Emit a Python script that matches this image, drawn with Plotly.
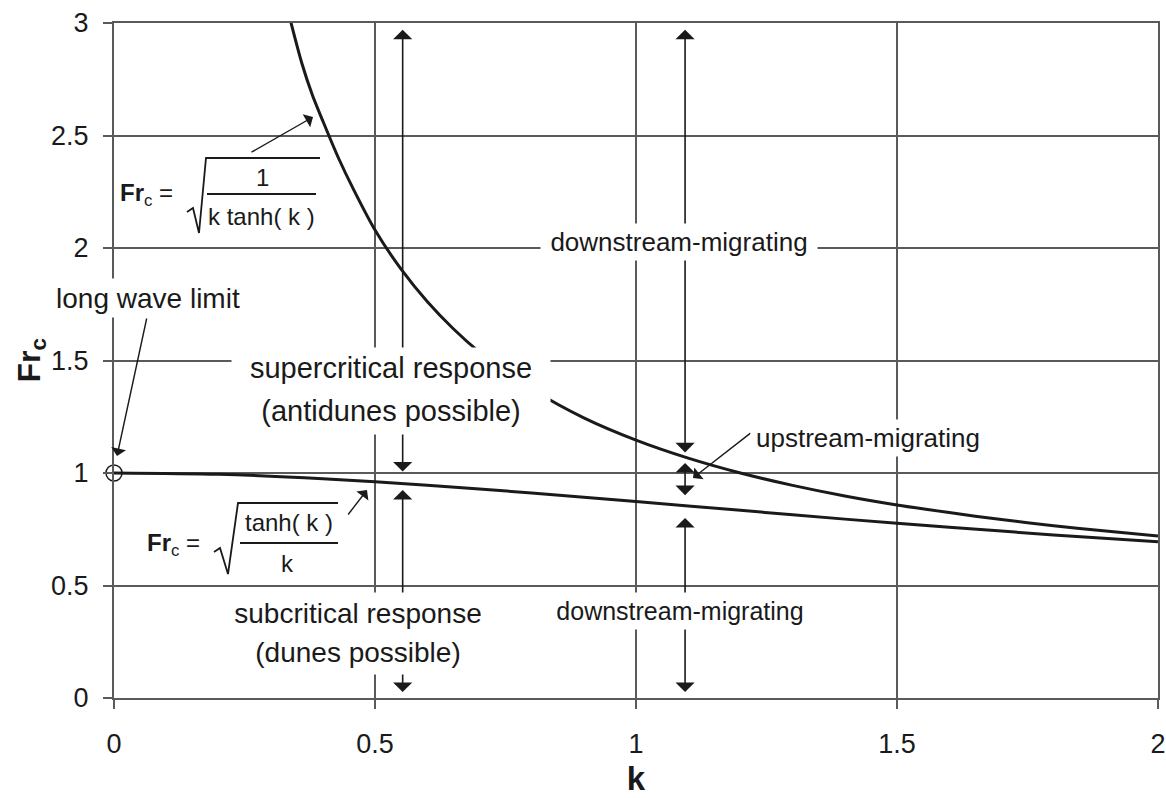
import plotly.graph_objects as go

# ---------------- data ----------------
k_upper = [0.337, 0.36, 0.38, 0.40, 0.43, 0.46, 0.50, 0.55, 0.60, 0.65, 0.70,
           0.75, 0.80, 0.90, 1.00, 1.10, 1.20, 1.30, 1.40, 1.50, 1.60,
           1.70, 1.80, 1.90, 2.00]
fr_upper = [3.020, 2.820, 2.680, 2.565, 2.400, 2.255, 2.080, 1.906, 1.762, 1.641, 1.537,
            1.449, 1.372, 1.245, 1.146, 1.066, 1.000, 0.945, 0.898, 0.858, 0.824,
            0.793, 0.766, 0.742, 0.720]

k_lower = [0.0, 0.2, 0.4, 0.6, 0.8, 1.0, 1.2, 1.4, 1.6, 1.8, 2.0]
fr_lower = [1.000, 0.994, 0.975, 0.946, 0.911, 0.873, 0.834, 0.795, 0.759, 0.725, 0.694]

long_wave_k = [0.0]
long_wave_fr = [1.0]

x_ticks = [0, 0.5, 1, 1.5, 2]
x_tick_labels = ["0", "0.5", "1", "1.5", "2"]
y_ticks = [0, 0.5, 1, 1.5, 2, 2.5, 3]
y_tick_labels = ["0", "0.5", "1", "1.5", "2", "2.5", "3"]

# ---------------- layout geometry ----------------
W, H = 1166, 798
ML, MR, MT, MB = 114, 8, 23, 100
XMIN, XMAX, YMIN, YMAX = 0.0, 2.0, 0.0, 3.0
PW, PH = W - ML - MR, H - MT - MB


def kx(px):
    """pixel x -> data k"""
    return XMIN + (px - ML) / PW * (XMAX - XMIN)


def fy(py):
    """pixel y -> data Fr"""
    return YMAX - (py - MT) / PH * (YMAX - YMIN)


INK = "#1a1a1a"
GRID = "#5a5a5a"
FONT = "Liberation Sans, Arial, sans-serif"

fig = go.Figure()
fig.add_trace(go.Scatter(x=k_upper, y=fr_upper, mode="lines",
                         line=dict(color=INK, width=3, shape="spline", smoothing=0.8),
                         hoverinfo="skip", showlegend=False))
fig.add_trace(go.Scatter(x=k_lower, y=fr_lower, mode="lines",
                         line=dict(color=INK, width=3, shape="spline", smoothing=0.8),
                         hoverinfo="skip", showlegend=False))
fig.add_trace(go.Scatter(x=long_wave_k, y=long_wave_fr, mode="markers",
                         marker=dict(symbol="circle-open", size=16, color=INK,
                                     line=dict(width=1.5, color=INK)),
                         cliponaxis=False, hoverinfo="skip", showlegend=False))

annotations = []

# double-headed vertical arrows (k, bottom Fr, top Fr)
arrows = [
    (0.553, 1.00, 2.97),
    (0.553, 0.02, 0.925),
    (1.094, 1.085, 2.97),
    (1.094, 0.895, 1.045),
    (1.094, 0.02, 0.80),
]
for ak, a0, a1 in arrows:
    annotations.append(dict(
        x=ak, y=a1, ax=ak, ay=a0, xref="x", yref="y", axref="x", ayref="y",
        text="", showarrow=True, arrowside="end+start",
        arrowhead=1, startarrowhead=1, arrowsize=2.0, startarrowsize=2.0,
        arrowwidth=1.6, arrowcolor=INK, standoff=0, startstandoff=0))

# leader arrows: (tail px, tip px)
leaders = [
    ((147, 317), (117, 456)),   # long wave limit
    ((250, 153), (313, 117)),   # formula 1
    ((347, 516), (367, 490)),   # formula 2
    ((752, 432), (693, 478)),   # upstream-migrating
]
for (tx, ty), (hx, hy) in leaders:
    annotations.append(dict(
        x=kx(hx), y=fy(hy), ax=kx(tx), ay=fy(ty), xref="x", yref="y",
        axref="x", ayref="y", text="", showarrow=True, arrowhead=1,
        arrowsize=1.8, arrowwidth=1.4, arrowcolor=INK, standoff=0))

# text labels with white masks: (text, cx, cy, size, w, h)
labels = [
    ("long wave limit", 148, 298, 28, 196, 38),
    ("supercritical response", 391, 368, 29, 318, 40),
    ("(antidunes possible)", 391, 411, 29, 318, 46),
    ("subcritical response", 358, 613, 28, 272, 40),
    ("(dunes possible)", 358, 652, 28, 272, 44),
    ("downstream-migrating", 679, 242, 26, 276, 36),
    ("downstream-migrating", 680, 611, 25, 262, 36),
    ("upstream-migrating", 868, 438, 26, 234, 36),
]
for txt, cx, cy, sz, bw, bh in labels:
    annotations.append(dict(
        x=kx(cx), y=fy(cy), xref="x", yref="y", text=txt, showarrow=False,
        font=dict(family=FONT, size=sz, color=INK), bgcolor="white",
        width=bw, height=bh, borderpad=0, xanchor="center", yanchor="middle"))

# formula texts: (text, x px, y px, size, xanchor)
formula_texts = [
    ("<b>Fr</b><sub>c</sub> =", 118, 194, 24, "left"),
    ("1", 262, 177, 24, "center"),
    ("k tanh( k )", 261, 216, 24, "center"),
    ("<b>Fr</b><sub>c</sub> =", 145, 544, 24, "left"),
    ("tanh( k )", 289, 522, 24, "center"),
    ("k", 287, 563, 24, "center"),
]
for txt, cx, cy, sz, xa in formula_texts:
    annotations.append(dict(
        x=kx(cx), y=fy(cy), xref="x", yref="y", text=txt, showarrow=False,
        font=dict(family=FONT, size=sz, color=INK), xanchor=xa, yanchor="middle"))

# y-axis title placed precisely
annotations.append(dict(
    x=(31 - ML) / PW, y=0.5, xref="paper", yref="paper", text="<b>Fr<sub>c</sub></b>",
    textangle=-90, showarrow=False, xanchor="center", yanchor="middle",
    font=dict(family=FONT, size=32, color=INK)))

# radical signs and fraction bars (pixel polylines)
radicals = [
    [(187, 212), (193, 208), (199, 233), (206, 158), (320, 158)],
    [(214, 552), (220, 548), (228, 574), (238, 503), (338, 503)],
]
bars = [((207, 194), (316, 194)), ((240, 543), (338, 543))]
shapes = []
for pts in radicals:
    path = "M " + " L ".join(f"{kx(px):.5f},{fy(py):.5f}" for px, py in pts)
    shapes.append(dict(type="path", path=path, xref="x", yref="y",
                       line=dict(color=INK, width=1.8), layer="above"))
for (x0, y0), (x1, y1) in bars:
    shapes.append(dict(type="line", x0=kx(x0), y0=fy(y0), x1=kx(x1), y1=fy(y1),
                       xref="x", yref="y", line=dict(color=INK, width=2), layer="above"))

fig.update_layout(
    width=W, height=H,
    margin=dict(l=ML, r=MR, t=MT, b=MB, pad=0, autoexpand=False),
    paper_bgcolor="white", plot_bgcolor="white",
    showlegend=False,
    font=dict(family=FONT, color=INK),
    annotations=annotations, shapes=shapes,
    xaxis=dict(range=[XMIN, XMAX], tickvals=x_ticks, ticktext=x_tick_labels,
               automargin=False, ticklabeloverflow="allow",
               showgrid=True, gridcolor=GRID, gridwidth=2,
               showline=True, linecolor=GRID, linewidth=2, mirror=True,
               zeroline=False, ticks="outside", ticklen=9, tickwidth=2, tickcolor=GRID,
               tickfont=dict(family=FONT, size=27, color=INK), ticklabelstandoff=12,
               title=dict(text="<b>k</b>", font=dict(family=FONT, size=33, color=INK),
                          standoff=8)),
    yaxis=dict(range=[YMIN, YMAX], tickvals=y_ticks, ticktext=y_tick_labels,
               automargin=False, ticklabeloverflow="allow",
               showgrid=True, gridcolor=GRID, gridwidth=2,
               showline=True, linecolor=GRID, linewidth=2, mirror=True,
               zeroline=False, ticks="outside", ticklen=9, tickwidth=2, tickcolor=GRID,
               tickfont=dict(family=FONT, size=27, color=INK), ticklabelstandoff=9),
)

# remove the browser's default 8px page margin so the figure sits at the window origin
fig.write_html("out.html",
               config={"displayModeBar": False},
               post_script="document.body.style.margin='0';document.body.style.overflow='hidden';")
